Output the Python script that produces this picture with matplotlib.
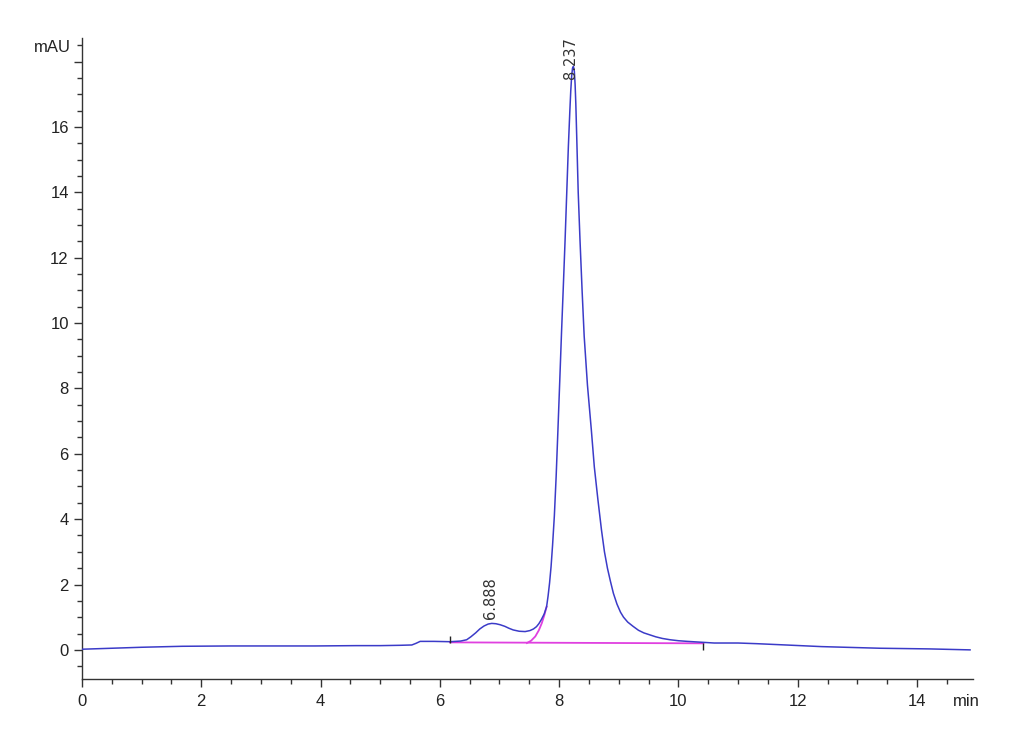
import numpy as np
import matplotlib
matplotlib.use("Agg")
import matplotlib.pyplot as plt
from matplotlib.ticker import MultipleLocator, FixedLocator

plt.rcParams.update({
    "font.family": ["Liberation Sans Narrow", "Liberation Sans", "DejaVu Sans"],
    "font.size": 12,
    "axes.linewidth": 1.0,
    "xtick.direction": "out", "ytick.direction": "out",
})

# chromatogram trace (time in min, signal in mAU)
time_min = [0.00, 0.50, 1.00, 1.68, 2.50, 3.30, 3.90, 4.60, 5.00, 5.33, 5.53,
            5.60, 5.67, 5.90, 6.17, 6.35, 6.45, 6.52, 6.60, 6.67, 6.74, 6.81,
            6.87, 6.94, 7.01, 7.09, 7.16, 7.23, 7.33, 7.43, 7.51, 7.57, 7.62,
            7.66, 7.70, 7.75, 7.79, 7.815, 7.84, 7.865, 7.89, 7.92, 7.95, 7.98,
            8.01, 8.04, 8.07, 8.10, 8.13, 8.155, 8.18, 8.195, 8.21, 8.225, 8.24,
            8.255, 8.268, 8.28, 8.295, 8.32, 8.35, 8.385, 8.42, 8.475, 8.54, 8.59,
            8.65, 8.71, 8.76, 8.81, 8.86, 8.91, 8.97, 9.03, 9.08, 9.15, 9.24,
            9.33, 9.42, 9.52, 9.62, 9.73, 9.86, 10.00, 10.15, 10.42, 10.60, 11.00,
            11.31, 11.80, 12.40, 13.38, 14.20, 14.89]
signal_mau = [0.02, 0.05, 0.08, 0.11, 0.12, 0.12, 0.12, 0.13, 0.13, 0.14, 0.15,
              0.20, 0.26, 0.26, 0.25, 0.27, 0.31, 0.40, 0.52, 0.64, 0.73, 0.79,
              0.81, 0.80, 0.77, 0.72, 0.66, 0.61, 0.57, 0.56, 0.59, 0.64, 0.71,
              0.80, 0.92, 1.10, 1.32, 1.65, 2.05, 2.55, 3.20, 4.10, 5.30, 6.73,
              8.20, 9.70, 11.10, 12.54, 14.10, 15.40, 16.50, 17.10, 17.55, 17.80, 17.85,
              17.70, 17.30, 16.70, 15.70, 14.00, 12.54, 11.00, 9.60, 8.10, 6.73, 5.60,
              4.60, 3.67, 3.00, 2.50, 2.10, 1.73, 1.40, 1.15, 1.00, 0.85, 0.72,
              0.60, 0.52, 0.46, 0.40, 0.35, 0.31, 0.28, 0.26, 0.23, 0.21, 0.21,
              0.19, 0.15, 0.10, 0.05, 0.03, 0.00]

# integration baseline and front of main peak (magenta)
base_t = [6.17, 10.42]
base_y = [0.23, 0.20]
front_t = [7.46, 7.53, 7.60, 7.66, 7.71, 7.75, 7.79]
front_y = [0.21, 0.28, 0.41, 0.60, 0.82, 1.05, 1.32]

# integration start / stop markers
marks_t = [6.17, 10.42]
marks_lo = [0.22, 0.0]
marks_hi = [0.42, 0.20]

peak_rt = [6.888, 8.237]
peak_label_y = [0.95, 17.45]

fig = plt.figure(figsize=(10.3, 7.55), dpi=100)
ax = fig.add_axes([0.0796, 0.1007, 0.8651, 0.849])

ax.plot(time_min, signal_mau, color="#3b3bc8", lw=1.1, zorder=3)
ax.plot(base_t, base_y, color="#e040e0", lw=1.3, zorder=2)
ax.plot(front_t, front_y, color="#e040e0", lw=1.3, zorder=2)
ax.vlines(marks_t, marks_lo, marks_hi, color="#222222", lw=1.0, zorder=4)

for rt, ly in zip(peak_rt, peak_label_y):
    ax.text(rt - 0.04, ly, f"{rt:.3f}", rotation=90, ha="center", va="bottom",
            fontsize=10.5, family=["DejaVu Sans"], color="#333333", zorder=5)

ax.set_xlim(0, 14.94)
ax.set_ylim(-0.89, 18.72)
ax.xaxis.set_major_locator(MultipleLocator(2))
ax.xaxis.set_minor_locator(MultipleLocator(0.5))
ax.yaxis.set_major_locator(FixedLocator(np.arange(0, 20, 2)))
ax.yaxis.set_minor_locator(MultipleLocator(0.5))
ax.set_yticklabels([str(v) if v < 18 else "" for v in range(0, 20, 2)])
ax.tick_params(which="major", length=6, width=1.0, colors="#333333", labelsize=12,
               labelcolor="#222222")
ax.tick_params(which="minor", length=3.5, width=1.0, colors="#333333")
ax.xaxis.set_tick_params(pad=5)

for s in ("top", "right"):
    ax.spines[s].set_visible(False)
for s in ("left", "bottom"):
    ax.spines[s].set_color("#333333")

ax.text(-0.012, 18.42, "mAU", transform=ax.get_yaxis_transform(), ha="right",
        va="center", fontsize=12, color="#222222")
ax.annotate("min", xy=(14.82, 0), xycoords=ax.get_xaxis_transform(),
            xytext=(0, -11), textcoords="offset points", ha="center", va="top",
            fontsize=12, color="#222222")

fig.savefig("out.png", dpi=100, facecolor="white")
